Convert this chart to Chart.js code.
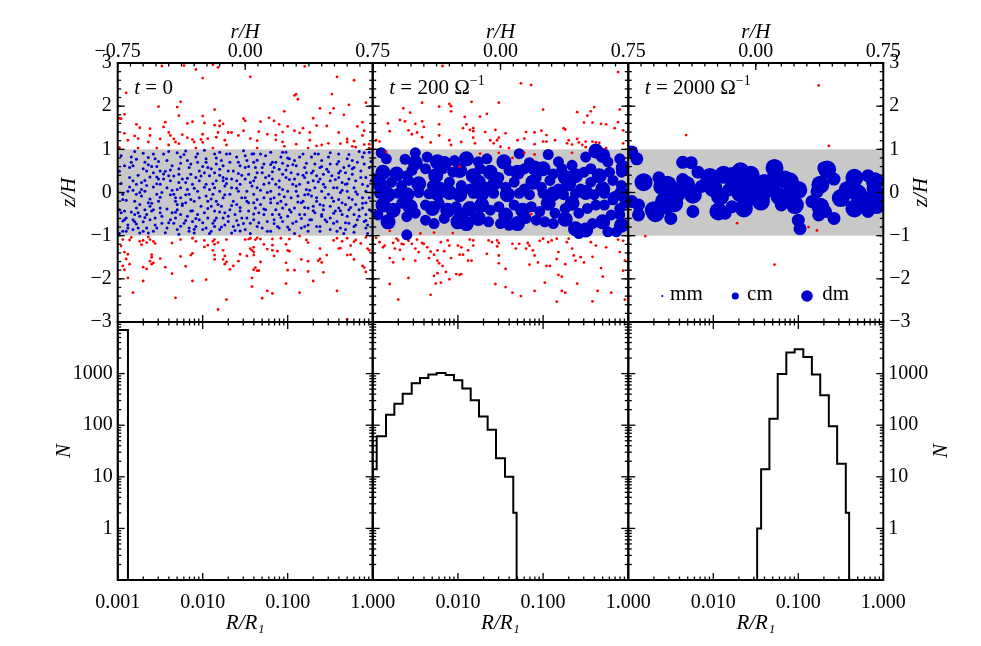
<!DOCTYPE html>
<html>
<head>
<meta charset="utf-8">
<script src="https://cdn.jsdelivr.net/npm/chart.js@4"></script>
<style>
  body { margin: 0; background: #fff; }
  #wrap { position: relative; width: 981px; height: 646px; }
  #wrap canvas { position: absolute; left: 0; top: 0; }
</style>
</head>
<body>
<div id="wrap">
  <canvas id="c0" width="981" height="646"></canvas>
  <canvas id="c1" width="981" height="646"></canvas>
  <canvas id="c2" width="981" height="646"></canvas>
  <canvas id="c3" width="981" height="646"></canvas>
  <canvas id="c4" width="981" height="646"></canvas>
  <canvas id="c5" width="981" height="646"></canvas>
</div>
<script>
// ---- data: particle positions [r/H, z/H] ----
const P1_RED = [
  [-0.49,2.93],[-0.36,2.94],[-0.29,2.85],[-0.19,2.96],[-0.16,2.90],[0.35,2.92],[0.03,2.68],[-0.25,2.65],[0.54,2.68],[0.64,2.60],
  [-0.70,2.31],[0.29,2.25],[0.30,2.28],[0.31,2.16],[0.51,2.28],[-0.38,2.10],[-0.51,1.99],[-0.40,1.98],[-0.18,1.92],[0.61,2.03],
  [0.71,2.08],[0.44,1.95],[0.52,1.95],[0.50,1.84],[-0.71,1.81],[-0.73,1.71],[-0.25,1.77],[-0.39,1.78],[0.23,1.88],[0.58,1.80],
  [0.40,1.72],[-0.01,1.71],[0.00,1.66],[0.14,1.73],[0.17,1.66],[0.09,1.64],[-0.15,1.66],[-0.13,1.59],[-0.24,1.61],[-0.31,1.64],
  [-0.34,1.60],[-0.47,1.63],[-0.48,1.52],[-0.64,1.58],[-0.62,1.50],[-0.56,1.48],[-0.18,1.56],[-0.15,1.54],[0.25,1.53],[0.20,1.58],
  [0.29,1.43],[0.42,1.55],[0.48,1.54],[0.69,1.63],[0.70,1.43],[0.66,1.53],[0.55,1.39],[0.38,1.39],[0.34,1.49],[0.32,1.38],
  [0.13,1.35],[0.18,1.33],[0.22,1.40],[0.08,1.41],[-0.01,1.43],[-0.04,1.32],[0.03,1.25],[0.07,1.20],[0.18,1.22],[0.22,1.17],
  [0.23,1.07],[0.30,1.12],[0.38,1.21],[0.42,1.08],[0.45,1.10],[0.49,1.14],[0.60,1.24],[0.60,1.17],[0.64,1.19],[0.69,1.32],
  [0.70,1.11],[0.73,1.12],[0.63,1.07],[0.56,1.13],[-0.71,1.37],[-0.69,1.21],[-0.65,1.31],[-0.63,1.25],[-0.57,1.17],[-0.56,1.32],
  [-0.50,1.24],[-0.45,1.39],[-0.44,1.32],[-0.42,1.24],[-0.41,1.17],[-0.39,1.13],[-0.37,1.34],[-0.34,1.27],[-0.31,1.23],[-0.30,1.17],
  [-0.26,1.23],[-0.25,1.35],[-0.22,1.25],[-0.25,1.16],[-0.17,1.28],[-0.16,1.39],[-0.12,1.21],[-0.10,1.39],[-0.08,1.39],[-0.45,1.10],
  [-0.11,1.10],[-0.74,1.04],[-0.63,1.03],[-0.52,1.03],[-0.29,1.03],[-0.19,1.03],[0.07,1.03],[0.37,1.03],[0.65,1.05],[0.73,1.03],
  [-0.74,1.72],
  [-0.72,-1.09],[-0.67,-1.04],[-0.68,-1.10],[-0.73,-1.24],[-0.71,-1.38],[-0.69,-1.43],[-0.70,-1.54],[-0.68,-1.66],[-0.72,-1.70],[-0.71,-1.79],
  [-0.69,-1.98],[-0.66,-2.32],[-0.62,-1.13],[-0.61,-1.21],[-0.60,-1.11],[-0.57,-1.03],[-0.56,-1.09],[-0.58,-1.16],[-0.54,-1.13],[-0.53,-1.18],
  [-0.55,-1.44],[-0.55,-1.50],[-0.56,-1.59],[-0.54,-1.63],[-0.55,-1.66],[-0.50,-1.53],[-0.60,-1.73],[-0.58,-1.77],[-0.60,-2.05],[-0.47,-1.73],
  [-0.43,-1.88],[-0.43,-1.17],[-0.41,-2.44],[-0.38,-1.09],[-0.38,-1.48],[-0.35,-1.71],[-0.32,-1.45],[-0.31,-2.05],[-0.31,-1.06],[-0.29,-1.13],
  [-0.31,-1.41],[-0.24,-1.11],[-0.24,-1.26],[-0.23,-2.02],[-0.22,-1.22],[-0.19,-1.13],[-0.18,-1.09],[-0.18,-1.20],[-0.19,-1.34],[-0.18,-1.45],
  [-0.18,-1.55],[-0.16,-1.16],[-0.13,-1.34],[-0.12,-1.47],[-0.13,-1.55],[-0.11,-1.61],[-0.12,-1.66],[-0.09,-1.78],[-0.11,-1.09],[-0.11,-2.48],
  [-0.16,-2.71],[-0.07,-1.70],[-0.04,-1.59],[-0.03,-1.43],[0.00,-1.09],[0.02,-1.08],[0.03,-1.06],[0.01,-1.47],[0.03,-1.30],[0.04,-1.34],
  [0.05,-1.38],[0.05,-1.27],[0.06,-1.09],[0.07,-1.05],[0.09,-1.08],[0.05,-1.45],[0.06,-1.74],[0.05,-1.79],[0.07,-1.81],[0.08,-1.81],
  [0.09,-1.61],[0.04,-1.98],[0.04,-2.18],[0.10,-2.45],[0.11,-1.20],[0.13,-1.31],[0.13,-2.28],[0.16,-1.08],[0.16,-1.22],[0.16,-1.34],
  [0.17,-1.47],[0.19,-1.36],[0.16,-2.34],[0.21,-1.06],[0.24,-1.20],[0.25,-1.34],[0.26,-1.36],[0.24,-1.63],[0.25,-1.80],[0.24,-2.11],
  [0.26,-1.08],[0.29,-1.80],[0.32,-1.01],[0.32,-2.32],[0.33,-1.55],[0.36,-1.10],[0.37,-1.16],[0.37,-1.59],[0.37,-1.83],[0.40,-2.05],
  [0.43,-1.58],[0.44,-1.54],[0.44,-1.30],[0.45,-1.62],[0.46,-1.85],[0.48,-1.45],[0.52,-1.11],[0.54,-2.28],[0.54,-1.06],[0.55,-1.30],
  [0.56,-1.29],[0.57,-1.13],[0.60,-1.06],[0.60,-1.45],[0.62,-1.44],[0.62,-1.23],[0.64,-1.14],[0.65,-1.10],[0.64,-1.55],[0.60,-2.94],
  [0.71,-1.04],[0.72,-1.30],[0.73,-1.34],[0.69,-1.70],[0.70,-1.74],[0.71,-1.84],[0.68,-1.18]
];
const P1_BLUE = [
  [-0.74,0.49],[-0.72,-0.16],[-0.72,-0.04],[-0.74,-0.40],[-0.73,-0.47],[-0.71,-0.43],[-0.70,-0.59],[-0.71,-0.63],[-0.69,-0.75],[-0.69,-0.82],
  [-0.70,-0.90],[-0.72,-0.90],[-0.67,0.82],[-0.67,0.70],[-0.66,0.62],[-0.68,0.35],[-0.66,0.27],[-0.64,0.19],[-0.68,0.13],[-0.69,0.03],
  [-0.64,-0.04],[-0.62,0.00],[-0.65,-0.20],[-0.64,-0.36],[-0.63,-0.47],[-0.65,-0.51],[-0.62,-0.55],[-0.66,-0.63],[-0.65,-0.68],[-0.66,-0.86],
  [-0.63,-0.82],[-0.62,-0.94],[-0.60,0.91],[-0.59,0.70],[-0.57,0.64],[-0.58,0.50],[-0.56,0.36],[-0.59,0.28],[-0.61,0.23],[-0.61,0.07],
  [-0.59,0.03],[-0.57,-0.24],[-0.56,-0.32],[-0.59,-0.40],[-0.55,-0.43],[-0.58,-0.51],[-0.56,-0.63],[-0.60,-0.68],[-0.58,-0.82],[-0.57,-0.94],
  [-0.54,0.89],[-0.53,0.78],[-0.52,0.60],[-0.54,0.46],[-0.52,0.36],[-0.51,0.31],[-0.50,0.19],[-0.54,0.13],[-0.52,-0.04],[-0.49,0.00],
  [-0.51,-0.20],[-0.50,-0.36],[-0.54,-0.40],[-0.50,-0.47],[-0.53,-0.59],[-0.49,-0.71],[-0.52,-0.82],[-0.54,-0.90],[-0.48,0.89],[-0.46,0.74],
  [-0.47,0.49],[-0.44,0.52],[-0.45,0.39],[-0.48,0.31],[-0.44,0.27],[-0.46,0.11],[-0.43,0.05],[-0.42,-0.04],[-0.41,-0.12],[-0.41,-0.20],
  [-0.40,-0.28],[-0.40,-0.40],[-0.43,-0.47],[-0.41,-0.59],[-0.44,-0.63],[-0.42,-0.71],[-0.46,-0.82],[-0.40,-0.86],[-0.38,0.82],[-0.38,0.68],
  [-0.39,0.42],[-0.37,0.31],[-0.39,0.23],[-0.38,0.11],[-0.38,-0.12],[-0.37,-0.26],[-0.38,-0.51],[-0.36,-0.71],[-0.39,-0.97],
  [-0.35,0.96],[-0.34,0.74],[-0.33,0.58],[-0.32,0.42],[-0.35,0.23],[-0.31,0.19],[-0.34,0.07],[-0.33,-0.04],[-0.32,-0.16],[-0.35,-0.24],
  [-0.32,-0.43],[-0.34,-0.55],[-0.31,-0.67],[-0.33,-0.82],[-0.30,-0.94],[-0.29,0.82],[-0.28,0.70],[-0.27,0.50],[-0.29,0.35],[-0.27,0.27],
  [-0.28,0.03],[-0.30,-0.20],[-0.26,-0.32],[-0.28,-0.51],[-0.27,-0.63],[-0.29,-0.79],[-0.25,-0.86],[-0.24,0.98],[-0.23,0.78],[-0.22,0.58],
  [-0.24,0.46],[-0.21,0.39],[-0.23,0.19],[-0.21,0.07],[-0.23,-0.08],[-0.22,-0.20],[-0.20,-0.32],[-0.24,-0.47],[-0.22,-0.59],[-0.19,-0.71],
  [-0.23,-0.82],[-0.20,-0.90],[-0.18,0.89],[-0.17,0.66],[-0.18,0.46],[-0.17,0.27],[-0.18,0.11],[-0.19,-0.04],[-0.17,-0.20],[-0.18,-0.43],
  [-0.17,-0.59],[-0.18,-0.79],
  [-0.15,0.93],[-0.14,0.74],[-0.15,0.54],[-0.13,0.35],[-0.13,0.27],[-0.12,0.15],[-0.15,0.03],[-0.13,-0.12],[-0.14,-0.32],[-0.12,-0.47],
  [-0.13,-0.59],[-0.12,-0.75],[-0.15,-0.86],[-0.11,0.89],[-0.09,0.70],[-0.10,0.50],[-0.08,0.31],[-0.11,0.21],[-0.08,0.11],[-0.09,-0.04],
  [-0.07,-0.20],[-0.09,-0.40],[-0.06,-0.51],[-0.10,-0.67],[-0.07,-0.79],[-0.08,-0.94],[-0.05,0.82],[-0.03,0.62],[-0.04,0.44],[-0.05,0.27],
  [-0.03,0.19],[-0.04,0.03],[-0.02,-0.12],[-0.05,-0.28],[-0.03,-0.43],[-0.02,-0.59],[-0.04,-0.75],[-0.03,-0.89],[-0.01,0.97],[0.01,0.74],
  [0.00,0.58],[0.02,0.42],[0.00,0.31],[0.03,0.23],[0.01,0.03],[0.00,-0.12],[0.02,-0.24],[0.02,-0.43],[0.01,-0.59],[0.03,-0.71],
  [0.00,-0.86],
  [0.04,0.89],[0.05,0.70],[0.06,0.58],[0.07,0.46],[0.05,0.27],[0.07,0.11],[0.05,-0.04],[0.07,-0.16],[0.05,-0.24],[0.06,-0.36],
  [0.08,-0.47],[0.05,-0.63],[0.07,-0.79],[0.09,0.89],[0.11,0.66],[0.10,0.46],[0.12,0.35],[0.11,0.19],[0.13,0.00],[0.11,-0.12],
  [0.09,-0.28],[0.12,-0.40],[0.11,-0.51],[0.13,-0.67],[0.10,-0.82],[0.15,0.93],[0.16,0.70],[0.17,0.58],[0.14,0.39],[0.16,0.31],
  [0.18,0.19],[0.15,0.03],[0.17,-0.12],[0.15,-0.24],[0.18,-0.40],[0.16,-0.51],[0.17,-0.63],[0.19,-0.79],[0.15,-0.90],[0.21,0.82],
  [0.22,0.68],[0.20,0.54],[0.22,0.42],[0.20,0.27],[0.22,0.07],[0.20,-0.04],[0.21,-0.20],[0.22,-0.36],[0.20,-0.51],[0.22,-0.67],
  [0.20,-0.82],
  [0.24,0.93],[0.26,0.78],[0.25,0.62],[0.27,0.46],[0.24,0.35],[0.28,0.19],[0.25,0.03],[0.27,-0.12],[0.24,-0.28],[0.26,-0.40],
  [0.25,-0.55],[0.28,-0.71],[0.26,-0.86],[0.29,0.74],[0.30,0.62],[0.31,0.42],[0.29,0.31],[0.32,0.19],[0.30,0.03],[0.31,-0.08],
  [0.33,-0.24],[0.29,-0.36],[0.32,-0.51],[0.30,-0.67],[0.33,-0.82],[0.34,0.89],[0.35,0.58],[0.36,0.46],[0.35,0.35],[0.37,0.23],
  [0.36,0.07],[0.37,-0.04],[0.34,-0.20],[0.37,-0.36],[0.35,-0.51],[0.38,-0.63],[0.35,-0.79],[0.37,-0.90],[0.39,0.82],[0.41,0.66],
  [0.40,0.50],[0.42,0.39],[0.40,0.27],[0.41,0.11],[0.39,-0.08],[0.42,-0.20],[0.40,-0.32],[0.41,-0.47],[0.39,-0.63],[0.42,-0.79],
  [0.43,0.89],[0.45,0.74],[0.44,0.58],[0.46,0.42],[0.44,0.31],[0.46,0.19],[0.45,0.03],[0.47,-0.12],[0.44,-0.28],[0.46,-0.40],
  [0.45,-0.51],[0.47,-0.63],[0.44,-0.79],[0.49,0.82],[0.50,0.66],[0.48,0.54],[0.51,0.39],[0.50,0.27],[0.52,0.11],[0.49,-0.04],
  [0.52,-0.20],[0.50,-0.32],[0.53,-0.43],[0.50,-0.59],[0.52,-0.71],[0.50,-0.86],[0.55,0.89],[0.54,0.66],[0.56,0.50],[0.55,0.35],
  [0.57,0.23],[0.54,0.11],[0.56,0.00],[0.55,-0.16],[0.57,-0.24],[0.55,-0.36],[0.57,-0.51],[0.54,-0.67],[0.56,-0.82],[0.60,0.78],
  [0.61,0.62],[0.59,0.46],[0.61,0.31],[0.59,0.19],[0.60,0.03],[0.61,-0.12],[0.59,-0.28],[0.61,-0.40],[0.60,-0.55],[0.61,-0.71],
  [0.59,-0.86],
  [0.63,0.74],[0.64,0.58],[0.63,0.42],[0.65,0.27],[0.64,0.11],[0.66,-0.04],[0.63,-0.16],[0.65,-0.28],[0.67,-0.40],[0.64,-0.51],
  [0.66,-0.63],[0.64,-0.79],[0.69,0.82],[0.70,0.66],[0.68,0.50],[0.71,0.35],[0.69,0.19],[0.71,0.03],[0.69,-0.12],[0.71,-0.24],
  [0.69,-0.36],[0.71,-0.51],[0.70,-0.67],[0.71,-0.82],[0.73,0.93],[0.73,0.58],[0.74,0.27],[0.73,-0.12],[0.74,-0.43],[0.72,-0.75],
  [-0.73,0.85],[-0.71,0.62],[-0.73,0.21],[-0.70,-0.18],[-0.72,-0.66],[-0.68,0.58],[-0.66,0.05],[-0.67,-0.45],[-0.64,0.77],[-0.63,0.40],
  [-0.62,-0.28],[-0.64,-0.73],[-0.60,0.55],[-0.61,-0.08],[-0.59,-0.58],[-0.58,0.16],[-0.57,0.81],[-0.56,-0.15],[-0.55,0.60],[-0.53,-0.75],
  [-0.52,0.20],[-0.51,0.72],[-0.50,-0.11],[-0.49,-0.55],[-0.48,0.43],[-0.47,-0.93],[-0.46,-0.38],[-0.45,0.95],[-0.44,-0.05],[-0.43,0.62],
  [-0.42,0.38],[-0.41,-0.46],[-0.40,0.07],[-0.39,0.55],[-0.38,-0.78],[-0.37,-0.30],[-0.36,0.88],[-0.35,-0.05],[-0.34,0.33],[-0.33,-0.90],
  [-0.32,0.66],[-0.31,-0.42],[-0.30,0.10],[-0.29,-0.60],[-0.28,0.90],[-0.27,-0.12],[-0.26,0.38],[-0.25,-0.70],[-0.24,0.12],[-0.23,0.70],
  [-0.22,-0.37],[-0.21,-0.95],[-0.20,0.55],[-0.19,0.20],[-0.18,-0.65],[-0.17,0.80],[-0.16,-0.28],[-0.15,0.40],[-0.14,-0.80],[-0.13,0.62],
  [-0.12,-0.05],[-0.11,0.32],[-0.10,-0.55],[-0.09,0.90],[-0.08,-0.30],[-0.07,0.50],[-0.06,-0.88],[-0.05,0.10],[-0.04,0.70],[-0.03,-0.35],
  [-0.02,0.40],[-0.01,-0.72],[0.00,0.85],[0.01,-0.20],[0.02,0.60],[0.03,-0.95],[0.04,0.15],[0.05,-0.50],[0.06,0.35],[0.07,0.75],
  [0.08,-0.70],[0.09,0.05],[0.10,0.58],[0.11,-0.38],[0.12,0.85],[0.13,-0.90],[0.14,0.22],[0.15,-0.15],[0.16,0.48],[0.17,-0.72],
  [0.18,0.70],[0.19,-0.25],[0.20,0.12],[0.21,-0.58],[0.22,0.93],[0.23,-0.10],[0.24,0.52],[0.25,-0.80],[0.26,0.30],[0.27,-0.45],
  [0.28,0.65],[0.29,-0.95],[0.30,0.15],[0.31,-0.22],[0.32,0.82],[0.33,-0.60],[0.34,0.40],[0.35,-0.05],[0.36,0.68],[0.37,-0.75],
  [0.38,0.05],[0.39,0.45],[0.40,-0.42],[0.41,0.90],[0.42,-0.12],[0.43,0.25],[0.44,-0.90],[0.45,0.60],[0.46,-0.30],[0.47,0.12],
  [0.48,-0.68],[0.49,0.48],[0.50,0.92],[0.51,-0.12],[0.52,-0.48],[0.53,0.30],[0.54,-0.90],[0.55,0.72],[0.56,-0.42],[0.57,0.05],
  [0.58,0.58],[0.59,-0.70],[0.60,0.20],[0.61,0.88],[0.62,-0.35],[0.63,0.55],[0.64,-0.92],[0.65,0.02],[0.66,0.70],[0.67,-0.55],
  [0.68,0.35],[0.69,-0.25],[0.70,0.92],[0.71,-0.65],[0.72,0.15],[0.73,-0.40],[0.74,0.72],[0.72,-0.95],[0.67,0.95],[0.58,-0.95],
  [-0.74,-0.95],[-0.65,0.95],[-0.55,-0.25],[-0.45,-0.70],[-0.35,-0.65],[-0.25,0.60],[-0.15,-0.45],[-0.05,-0.65],[0.05,0.90],[0.15,0.65],
  [0.25,0.80],[0.35,-0.35],[0.45,-0.55],[0.55,0.45],[0.65,-0.75],[-0.60,-0.90],[-0.50,0.50],[-0.40,0.92],[-0.30,-0.85],[-0.20,-0.15]
];
const P2_RED = [
  [-0.34,2.93],[0.69,2.79],[0.12,2.53],[0.18,2.49],[-0.46,2.08],[-0.36,1.99],[-0.30,2.05],[-0.29,2.00],[-0.29,1.88],[-0.17,2.10],
  [-0.01,2.08],[0.55,1.98],[0.53,1.88],[0.51,1.78],[0.45,1.86],[0.70,1.92],[-0.57,1.95],[-0.53,1.85],[-0.59,1.68],[-0.56,1.65],
  [-0.66,1.60],[-0.50,1.59],[-0.46,1.65],[-0.45,1.52],[-0.36,1.58],[-0.21,1.75],[-0.20,1.58],[-0.18,1.45],[-0.16,1.49],[-0.16,1.42],
  [-0.22,1.49],[-0.12,1.76],[-0.08,1.82],[-0.09,1.40],[-0.03,1.45],[0.03,1.37],[0.15,1.40],[0.20,1.39],[0.25,1.92],[0.24,1.43],
  [0.27,1.33],[0.37,1.49],[0.38,1.46],[0.49,1.62],[0.54,1.62],[0.59,1.59],[0.62,1.58],[0.67,1.49],[0.69,1.63],[0.72,1.44],
  [-0.65,1.42],[-0.54,1.44],[-0.52,1.35],[-0.49,1.39],[-0.46,1.28],[-0.41,1.16],[-0.36,1.32],[-0.30,1.21],[-0.29,1.10],[-0.23,1.17],
  [-0.16,1.27],[-0.15,1.14],[-0.06,1.21],[-0.04,1.14],[-0.02,1.21],[-0.01,1.27],[0.00,1.06],[0.05,1.03],[0.10,1.21],[0.14,1.25],
  [0.20,1.12],[0.25,1.18],[0.27,1.18],[0.32,1.21],[0.39,1.14],[0.40,1.21],[0.42,1.11],[0.45,1.24],[0.46,1.16],[0.48,1.10],
  [0.50,1.18],[0.50,1.05],[0.54,1.18],[0.56,1.16],[0.58,1.15],[0.62,1.03],[0.72,1.14],[-0.73,1.21],[-0.71,1.18],
  [-0.12,0.90],[-0.01,0.92],[0.07,0.80],[0.14,0.92],[0.20,0.88],[0.42,0.92],[-0.24,0.60],[-0.67,0.94],[0.18,-0.50],
  [-0.65,-0.89],[-0.47,-0.95],[-0.39,-0.93],[-0.28,-0.94],[-0.73,-1.05],[-0.71,-1.15],[-0.68,-1.23],[-0.63,-1.17],[-0.61,-1.07],[-0.60,-1.11],
  [-0.58,-1.19],[-0.54,-1.12],[-0.52,-1.19],[-0.49,-1.09],[-0.46,-1.17],[-0.45,-1.19],[-0.69,-1.27],[-0.62,-1.30],[-0.59,-1.33],[-0.57,-1.20],
  [-0.50,-1.30],[-0.48,-1.38],[-0.43,-1.27],[-0.41,-1.37],[-0.39,-1.44],[-0.37,-1.34],[-0.35,-1.15],[-0.33,-1.36],[-0.31,-1.11],[-0.30,-1.23],
  [-0.25,-1.23],[-0.23,-1.27],[-0.24,-1.44],[-0.18,-1.09],[-0.16,-1.11],[-0.16,-1.23],[-0.19,-1.34],[-0.65,-1.52],[-0.63,-1.62],[-0.57,-1.54],
  [-0.50,-1.58],[-0.42,-1.52],[-0.37,-1.58],[-0.36,-1.64],[-0.34,-1.70],[-0.29,-1.52],[-0.22,-1.44],[-0.19,-1.58],[-0.17,-1.58],[-0.08,-1.42],
  [-0.07,-1.11],[-0.05,-1.15],[-0.02,-1.11],[-0.01,-1.17],[-0.02,-1.25],[-0.01,-1.46],[-0.01,-1.64],[0.03,-1.77],[0.07,-1.19],[0.09,-1.30],
  [0.11,-1.19],[0.16,-1.17],[0.17,-1.23],[0.15,-1.30],[0.19,-1.34],[0.20,-1.46],[0.17,-1.67],[0.22,-1.62],[0.23,-1.12],[0.25,-1.07],
  [0.28,-1.15],[0.30,-1.11],[0.33,-1.07],[0.34,-1.38],[0.33,-1.54],[0.27,-1.70],[0.29,-1.70],[0.38,-1.66],[0.39,-1.15],[0.40,-1.07],
  [0.42,-1.30],[0.43,-1.46],[0.44,-1.58],[0.47,-1.50],[0.49,-1.62],[0.53,-1.15],[0.54,-1.49],[0.56,-1.23],[0.62,-1.27],[0.69,-1.09],
  [0.72,-1.12],[0.70,-1.38],[0.73,-1.58],[0.72,-1.81],[-0.65,-2.12],[-0.60,-2.48],[-0.54,-1.98],[-0.41,-2.37],[-0.39,-1.93],[-0.37,-1.87],
  [-0.38,-2.11],[-0.35,-2.09],[-0.32,-1.84],[-0.30,-2.01],[-0.26,-1.89],[-0.24,-1.91],[-0.23,-1.89],[-0.03,-2.12],[0.03,-2.19],[0.07,-2.32],
  [0.12,-2.40],[0.20,-2.28],[0.26,-2.09],[0.33,-2.53],[0.34,-1.91],[0.36,-1.95],[0.36,-2.28],[0.38,-2.32],[0.45,-2.11],[0.54,-2.52],
  [0.57,-2.28],[0.60,-1.95],[0.59,-1.75],[0.65,-2.32],[0.73,-2.48]
];
const P2_BLUE_M = [
  [-0.70,0.92],[-0.67,0.78],[-0.56,0.77],[-0.50,0.92],[-0.43,0.82],[-0.27,0.74],[-0.13,0.71],[-0.08,0.78],[0.11,0.90],[0.17,0.69],
  [0.28,0.88],[0.34,0.71],[0.42,0.63],[0.50,0.82],[0.63,0.71],[0.70,0.78],[0.71,0.47],[-0.55,0.39],[-0.52,0.51],[-0.44,0.55],
  [-0.34,0.55],[-0.28,0.47],[-0.12,0.55],[-0.01,0.35],[0.05,0.51],[0.14,0.55],[0.21,0.35],[0.31,0.43],[0.36,0.55],[0.49,0.47],
  [0.53,0.55],[0.64,0.47],[-0.74,0.32],[-0.64,0.24],[-0.58,0.16],[-0.54,0.28],[-0.40,0.16],[-0.30,0.24],[-0.23,0.16],[-0.18,0.08],
  [-0.08,0.12],[0.03,0.12],[0.08,0.24],[0.14,0.08],[0.24,0.12],[0.29,0.28],[0.34,0.08],[0.47,0.08],[0.53,0.24],[0.66,0.28],
  [0.71,0.16],[-0.67,0.04],
  [-0.71,-0.02],[-0.60,-0.02],[-0.48,0.00],[-0.42,-0.03],[-0.16,-0.02],[-0.04,-0.02],[0.11,-0.02],[0.17,-0.05],[0.25,-0.02],[0.37,-0.05],
  [0.44,-0.03],[0.55,-0.05],[0.61,-0.02],[0.67,-0.09],[-0.58,-0.25],[-0.50,-0.48],[-0.44,-0.29],[-0.36,-0.25],[-0.26,-0.33],[-0.15,-0.60],
  [-0.06,-0.41],[-0.01,-0.33],[0.08,-0.29],[0.18,-0.33],[0.23,-0.44],[0.32,-0.48],[0.38,-0.37],[0.46,-0.48],[0.51,-0.37],[0.56,-0.29],
  [0.61,-0.29],[0.66,-0.17],[0.70,-0.37],[0.73,-0.25],[-0.72,-0.52],[-0.55,-0.56],[-0.44,-0.64],[-0.39,-0.72],[-0.33,-0.60],[-0.07,-0.68],
  [0.00,-0.72],[0.05,-0.76],[0.15,-0.60],[0.21,-0.64],[0.26,-0.68],[0.31,-0.72],[0.54,-0.72],[0.65,-0.52],[0.70,-0.52],[0.68,-0.91],
  [0.63,-0.91],[0.46,-0.95],[-0.55,-0.98]
];
const P2_BLUE_L = [
  [-0.50,0.69],[-0.37,0.71],[-0.33,0.67],[-0.20,0.78],[0.02,0.71],[0.20,0.57],[0.56,0.96],[0.60,0.86],[0.72,0.57],[-0.69,0.47],
  [-0.61,0.43],[-0.38,0.39],[-0.24,0.51],[-0.16,0.39],[-0.06,0.47],[0.10,0.47],[0.25,0.55],[0.38,0.35],[0.44,0.39],[0.58,0.39],
  [-0.71,0.20],[-0.48,0.20],[-0.36,0.08],[-0.13,0.24],[-0.03,0.24],[0.19,0.24],[0.40,0.20],[0.60,0.08],
  [-0.66,-0.05],[-0.55,-0.05],[-0.37,-0.02],[-0.30,0.00],[-0.24,-0.05],[-0.11,-0.03],[0.04,-0.05],[0.31,-0.03],[0.50,0.00],[0.71,-0.03],
  [-0.69,-0.29],[-0.63,-0.41],[-0.53,-0.33],[-0.40,-0.37],[-0.31,-0.41],[-0.23,-0.52],[-0.18,-0.37],[-0.11,-0.29],[0.03,-0.52],[0.13,-0.41],
  [0.28,-0.25],[0.42,-0.25],[-0.66,-0.68],[-0.25,-0.68],[-0.20,-0.72],[-0.13,-0.60],[0.10,-0.72],[0.38,-0.62],[0.44,-0.84],[0.50,-0.87],
  [0.60,-0.68],[0.71,-0.76]
];
const P3_RED = [[0.37,2.48],[0.43,1.08],[-0.41,1.33],[-0.11,-0.71],[0.31,-0.80],[0.36,-0.88],[-0.65,-1.01],[0.11,-1.67]];
const P3_BLUE_M = [
  [-0.73,0.94],[-0.70,0.78],[-0.43,0.70],[-0.38,0.69],[-0.34,0.47],[-0.29,0.26],[0.40,0.57],[0.46,0.31],[0.66,0.39],[-0.57,0.34],
  [-0.32,0.14],[-0.16,0.06],[-0.01,0.02],[0.36,0.02],[0.69,0.10],[-0.73,-0.21],[-0.69,-0.29],[-0.51,-0.13],[-0.52,-0.37],[-0.37,-0.44],
  [-0.18,-0.48],[-0.14,-0.33],[-0.05,-0.21],[0.15,-0.29],[0.25,-0.64],[0.26,-0.84],[0.33,-0.21],[0.41,-0.44],[0.37,-0.52],[0.46,-0.60],
  [0.66,-0.44],[-0.50,-0.60],[-0.69,-0.52],[-0.43,0.30]
];
const P3_BLUE_L = [
  [-0.27,0.36],[-0.19,0.41],[-0.14,0.38],[-0.09,0.49],[-0.03,0.41],[0.11,0.57],[0.12,0.38],[0.17,0.30],[0.20,0.26],[0.05,0.22],
  [0.42,0.53],[0.58,0.34],[0.70,0.26],[-0.66,0.24],[-0.55,0.14],[-0.52,0.18],[-0.49,0.06],[-0.47,-0.05],[-0.41,0.18],[-0.37,-0.05],
  [-0.25,0.10],[-0.21,-0.09],[-0.13,0.14],[-0.09,-0.02],[-0.08,0.22],[-0.04,0.14],[0.03,-0.13],[0.09,0.10],[0.14,-0.09],[0.21,-0.02],
  [0.25,0.06],[0.38,0.18],[0.50,-0.13],[0.54,0.06],[0.60,-0.02],[0.64,-0.17],[0.71,-0.05],[0.71,-0.29],[-0.60,-0.41],[-0.54,-0.21],
  [-0.48,-0.25],[-0.22,-0.44],[-0.07,-0.37],[0.03,-0.21],[0.23,-0.29],[0.38,-0.33],[0.58,-0.37],[-0.59,-0.48]
];

// ---- data: size histograms (bin edges in R/R1, counts N) ----
const HIST1_EDGES = [0.001, 0.00132];
const HIST1_COUNTS = [6980];
const HIST2_EDGES = [0.001, 0.001114, 0.001432, 0.001795, 0.002249, 0.002871, 0.003589, 0.004498, 0.005636, 0.007178,
  0.008995, 0.01127, 0.01413, 0.01770, 0.02234, 0.02799, 0.03573, 0.04467, 0.04887];
const HIST2_COUNTS = [14, 61, 159, 260, 405, 650, 825, 957, 1030, 942, 743, 513, 305, 148, 82, 23, 10, 2];
const HIST3_EDGES = [0.03281, 0.03652, 0.04571, 0.05728, 0.07228, 0.09057, 0.1146, 0.1445, 0.1811, 0.2286, 0.2864, 0.3622, 0.3963];
const HIST3_COUNTS = [1, 14, 133, 986, 2550, 2950, 2100, 957, 381, 95, 18, 2];

// ---- axes / labels ----
const R_TICKS = [-0.75, 0, 0.75];
const Z_TICKS = [-3, -2, -1, 0, 1, 2, 3];
const SIZE_TICKS = [0.001, 0.01, 0.1, 1];
const N_TICKS = [0.1, 1, 10, 100, 1000, 10000];
const N_LABELS = [1, 10, 100, 1000];
const BAND = [-1, 1];
const NOTES = [
  [['t', 'i'], [' = 0', '']],
  [['t', 'i'], [' = 200 \u03A9', ''], ['\u22121', 'sup']],
  [['t', 'i'], [' = 2000 \u03A9', ''], ['\u22121', 'sup']]
];
const LEGEND = [['mm', 1.1], ['cm', 3.6], ['dm', 5.8]];

const BLUE = '#0000cc';
const RED = '#ff0000';
const FONT = '"Liberation Serif", "Times New Roman", serif';
Chart.defaults.font.family = FONT;
Chart.defaults.color = '#000';

const W = 981, H = 646;
const COL_X = [117.7, 372.7, 628.3, 883.3];
const ROW_Y = [63, 322, 580];

function linMinor(min, max, step) {
  const out = [];
  for (let k = 0; min + k * step <= max + 1e-9; k++) out.push(min + k * step);
  return out;
}
function logMinor(min, max) {
  const out = [];
  for (let d = min; d < max * 0.999; d *= 10) for (let k = 2; k <= 9; k++) out.push(d * k);
  return out;
}
const minus = s => s.replace('-', '\u2212');

// frame, inward tick marks on all sides, band, notes and legend
const deco = {
  id: 'deco',
  beforeDatasetsDraw(chart, args, o) {
    if (!o.band) return;
    const {ctx, chartArea: a} = chart;
    const y = chart.scales.y;
    const yt = y.getPixelForValue(BAND[1]), yb = y.getPixelForValue(BAND[0]);
    ctx.save();
    ctx.fillStyle = '#c8c8c8';
    ctx.fillRect(a.left, yt, a.right - a.left, yb - yt);
    ctx.restore();
  },
  afterDraw(chart, args, o) {
    const {ctx, chartArea: a} = chart;
    ctx.save();
    ctx.strokeStyle = '#000';
    ctx.lineWidth = 1.3;
    (o.sides || []).forEach(sd => {
      const sc = chart.scales[sd.scale];
      [[sd.minor, 3.5], [sd.major, 7]].forEach(([vals, len]) => {
        vals.forEach(v => {
          const p = sc.getPixelForValue(v);
          ctx.beginPath();
          if (sd.side === 'top' || sd.side === 'bottom') {
            if (p < a.left - 0.5 || p > a.right + 0.5) return;
            const y0 = sd.side === 'top' ? a.top : a.bottom;
            const dir = sd.side === 'top' ? 1 : -1;
            ctx.moveTo(p, y0); ctx.lineTo(p, y0 + dir * len);
          } else {
            if (p < a.top - 0.5 || p > a.bottom + 0.5) return;
            const x0 = sd.side === 'left' ? a.left : a.right;
            const dir = sd.side === 'left' ? 1 : -1;
            ctx.moveTo(x0, p); ctx.lineTo(x0 + dir * len, p);
          }
          ctx.stroke();
        });
      });
    });
    ctx.lineWidth = 2;
    ctx.strokeRect(a.left, a.top, a.right - a.left, a.bottom - a.top);

    ctx.fillStyle = '#000';
    ctx.textBaseline = 'alphabetic';
    if (o.note) {
      let x = a.left + 16.5;
      const y = a.top + 31;
      o.note.forEach(([txt, st]) => {
        ctx.font = st === 'i' ? 'italic 21px ' + FONT : st === 'sup' ? '14px ' + FONT : '21px ' + FONT;
        ctx.fillText(txt, x, st === 'sup' ? y - 9 : y);
        x += ctx.measureText(txt).width;
      });
    }
    if (o.legend) {
      const xs = [34, 107, 178.7];
      const yc = a.bottom - 26;
      ctx.font = '21px ' + FONT;
      o.legend.forEach(([lab, r], k) => {
        const cx = a.left + xs[k];
        ctx.fillStyle = BLUE;
        ctx.beginPath(); ctx.arc(cx, yc, r, 0, Math.PI * 2); ctx.fill();
        ctx.fillStyle = '#000';
        ctx.fillText(lab, cx + 1.6 * r + 6, yc + 4);
      });
    }
    if (o.rightTitle) {
      ctx.font = 'italic 21px ' + FONT;
      ctx.textAlign = 'center';
      ctx.textBaseline = 'middle';
      ctx.translate(o.rightTitle[1], (a.top + a.bottom) / 2);
      ctx.rotate(-Math.PI / 2);
      ctx.fillText(o.rightTitle[0], 0, 0);
    }
    ctx.restore();
  }
};
Chart.register(deco);

const fixSize = size => s => { if (s.isHorizontal()) s.height = size; else s.width = size; };
const pts = arr => arr.map(([x, y]) => ({x, y}));
const dot = (data, color, r) => ({data: pts(data), backgroundColor: color, borderWidth: 0, pointRadius: r, pointHoverRadius: r, clip: 0});

function padFor(i, row, sz) {
  return {
    left: COL_X[i] - sz.left,
    right: W - COL_X[i + 1] - sz.right,
    top: ROW_Y[row] - sz.top,
    bottom: H - ROW_Y[row + 1] - sz.bottom
  };
}

function scatterPanel(i, datasets) {
  const left = i === 0, right = i === 2;
  const sz = {top: 43.6, bottom: 0, left: left ? 61.3 : 0, right: right ? 40 : 0};
  new Chart(document.getElementById('c' + i), {
    type: 'scatter',
    data: {datasets},
    options: {
      responsive: false,
      animation: false,
      layout: {padding: padFor(i, 0, sz)},
      plugins: {
        legend: {display: false},
        tooltip: {enabled: false},
        deco: {
          band: true,
          note: NOTES[i],
          legend: right ? LEGEND : null,
          rightTitle: right ? ['z/H', 921] : null,
          sides: [
            {side: 'top', scale: 'x', major: R_TICKS, minor: linMinor(-0.75, 0.75, 0.075)},
            {side: 'bottom', scale: 'xl', major: SIZE_TICKS, minor: logMinor(0.001, 1)},
            {side: 'left', scale: 'y', major: Z_TICKS, minor: linMinor(-3, 3, 0.2)},
            {side: 'right', scale: 'y', major: Z_TICKS, minor: linMinor(-3, 3, 0.2)}
          ]
        }
      },
      scales: {
        x: {
          type: 'linear', position: 'top', min: -0.75, max: 0.75,
          grid: {display: false, drawTicks: false}, border: {display: false},
          afterBuildTicks: s => { s.ticks = R_TICKS.map(v => ({value: v})); },
          afterFit: fixSize(sz.top),
          ticks: {autoSkip: false, maxRotation: 0, padding: -1, font: {size: 20},
            callback: (v, k) => (i > 0 && k === 0) ? '' : minus(v.toFixed(2))},
          title: {display: true, text: 'r/H', padding: 0, font: {size: 21, style: 'italic'}}
        },
        xl: {type: 'logarithmic', position: 'bottom', min: 0.001, max: 1, display: false},
        y: {
          type: 'linear', position: right ? 'right' : 'left', min: -3, max: 3,
          display: left || right,
          grid: {display: false, drawTicks: false}, border: {display: false},
          afterBuildTicks: s => { s.ticks = Z_TICKS.map(v => ({value: v})); },
          afterFit: fixSize(left ? sz.left : sz.right),
          ticks: {autoSkip: false, padding: 6, font: {size: 20}, callback: v => minus(String(v))},
          title: {display: left, text: 'z/H', padding: 0, font: {size: 21, style: 'italic'}}
        }
      }
    }
  });
}

function histPoints(edges, counts) {
  const out = [{x: edges[0], y: N_TICKS[0]}];
  counts.forEach((c, k) => out.push({x: edges[k], y: c}));
  out.push({x: edges[edges.length - 1], y: N_TICKS[0]});
  return out;
}

function histPanel(i, edges, counts) {
  const left = i === 0, right = i === 2;
  const sz = {top: 0, bottom: 56, left: left ? 65.7 : 0, right: right ? 60 : 0};
  new Chart(document.getElementById('c' + (i + 3)), {
    type: 'line',
    data: {datasets: [{
      data: histPoints(edges, counts), stepped: true,
      borderColor: '#000', borderWidth: 2, pointRadius: 0, fill: false, clip: 0
    }]},
    options: {
      responsive: false,
      animation: false,
      layout: {padding: padFor(i, 1, sz)},
      plugins: {
        legend: {display: false},
        tooltip: {enabled: false},
        deco: {
          rightTitle: right ? ['N', 941] : null,
          sides: [
            {side: 'top', scale: 'x', major: SIZE_TICKS, minor: logMinor(0.001, 1)},
            {side: 'bottom', scale: 'x', major: SIZE_TICKS, minor: logMinor(0.001, 1)},
            {side: 'left', scale: 'y', major: N_TICKS, minor: logMinor(0.1, 10000)},
            {side: 'right', scale: 'y', major: N_TICKS, minor: logMinor(0.1, 10000)}
          ]
        }
      },
      scales: {
        x: {
          type: 'logarithmic', position: 'bottom', min: 0.001, max: 1,
          grid: {display: false, drawTicks: false}, border: {display: false},
          afterBuildTicks: s => { s.ticks = SIZE_TICKS.map(v => ({value: v})); },
          afterFit: fixSize(sz.bottom),
          ticks: {autoSkip: false, maxRotation: 0, padding: 11, font: {size: 20},
            callback: (v, k) => (i > 0 && k === 0) ? '' : v.toFixed(3)},
          title: {display: true, text: 'R/R\u2081', padding: 0, font: {size: 21, style: 'italic'}}
        },
        y: {
          type: 'logarithmic', position: right ? 'right' : 'left', min: N_TICKS[0], max: N_TICKS[N_TICKS.length - 1],
          display: left || right,
          grid: {display: false, drawTicks: false}, border: {display: false},
          afterBuildTicks: s => { s.ticks = N_LABELS.map(v => ({value: v})); },
          afterFit: fixSize(left ? sz.left : sz.right),
          ticks: {autoSkip: false, padding: 5, font: {size: 20}, callback: v => String(v)},
          title: {display: left, text: 'N', padding: 0, font: {size: 21, style: 'italic'}}
        }
      }
    }
  });
}

scatterPanel(0, [dot(P1_RED, RED, 1.4), dot(P1_BLUE, BLUE, 1.5)]);
scatterPanel(1, [dot(P2_RED, RED, 1.4), dot(P2_BLUE_L, BLUE, 7.5), dot(P2_BLUE_M, BLUE, 5.5)]);
scatterPanel(2, [dot(P3_RED, RED, 1.4), dot(P3_BLUE_L, BLUE, 9), dot(P3_BLUE_M, BLUE, 6.5)]);
histPanel(0, HIST1_EDGES, HIST1_COUNTS);
histPanel(1, HIST2_EDGES, HIST2_COUNTS);
histPanel(2, HIST3_EDGES, HIST3_COUNTS);
</script>
</body>
</html>
